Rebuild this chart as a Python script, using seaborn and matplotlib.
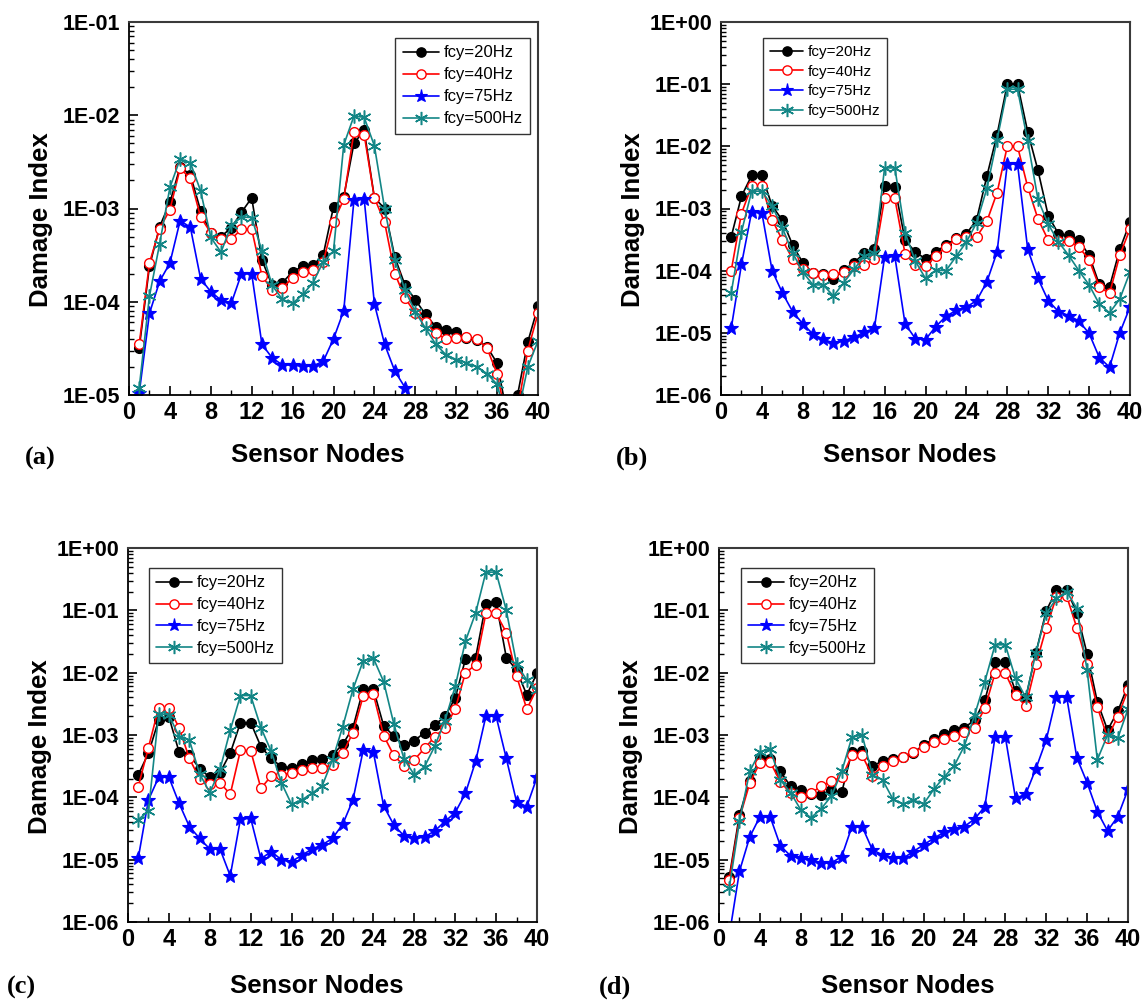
import numpy as np
import pandas as pd
import matplotlib
matplotlib.use("Agg")
import matplotlib.pyplot as plt
import seaborn as sns
from matplotlib import font_manager as fm
from matplotlib.ticker import MultipleLocator, LogLocator, FuncFormatter, NullFormatter

# ---------------- data ----------------
nodes = list(range(1, 41))
series_labels = ["fcy=20Hz", "fcy=40Hz", "fcy=75Hz", "fcy=500Hz"]

a_20 = [3.2e-5, 2.4e-4, 6.4e-4, 1.16e-3, 2.8e-3, 2.3e-3, 9.5e-4, 5.4e-4, 5.0e-4, 6.2e-4,
        9.1e-4, 1.3e-3, 2.8e-4, 1.5e-4, 1.6e-4, 2.1e-4, 2.4e-4, 2.45e-4, 3.2e-4, 1.04e-3,
        1.33e-3, 5.0e-3, 6.9e-3, 1.3e-3, 1.0e-3, 3.0e-4, 1.5e-4, 1.05e-4, 7.3e-5, 5.4e-5,
        5.0e-5, 4.7e-5, 4.1e-5, 3.9e-5, 3.3e-5, 2.2e-5, 6.0e-6, 1.0e-5, 3.7e-5, 8.9e-5]
a_40 = [3.5e-5, 2.6e-4, 6.1e-4, 9.7e-4, 2.7e-3, 2.1e-3, 8.1e-4, 5.5e-4, 4.7e-4, 4.7e-4,
        6.0e-4, 6.0e-4, 1.9e-4, 1.33e-4, 1.4e-4, 1.8e-4, 2.1e-4, 2.2e-4, 2.7e-4, 7.2e-4,
        1.25e-3, 6.6e-3, 6.2e-3, 1.3e-3, 7.1e-4, 2.0e-4, 1.1e-4, 7.5e-5, 6.0e-5, 4.6e-5,
        4.0e-5, 4.1e-5, 4.2e-5, 4.0e-5, 3.2e-5, 1.7e-5, 5.0e-6, 7.0e-6, 3.0e-5, 7.5e-5]
a_75 = [1.05e-5, 7.5e-5, 1.66e-4, 2.6e-4, 7.4e-4, 6.3e-4, 1.77e-4, 1.28e-4, 1.04e-4, 9.6e-5,
        2.0e-4, 2.0e-4, 3.5e-5, 2.5e-5, 2.1e-5, 2.1e-5, 2.05e-5, 2.05e-5, 2.3e-5, 4.0e-5,
        8.0e-5, 1.23e-3, 1.27e-3, 9.5e-5, 3.5e-5, 1.8e-5, 1.2e-5, 6.0e-6, 4.0e-6, 3.0e-6,
        2.5e-6, 2.5e-6, 2.2e-6, 2.0e-6, 1.8e-6, 1.5e-6, 1.0e-6, 8.0e-7, 1.5e-6, 3.0e-6]
a_500 = [1.2e-5, 1.15e-4, 4.2e-4, 1.68e-3, 3.4e-3, 3.1e-3, 1.55e-3, 4.9e-4, 3.4e-4, 6.6e-4,
         8.1e-4, 8.0e-4, 3.5e-4, 1.5e-4, 1.06e-4, 9.6e-5, 1.2e-4, 1.6e-4, 2.7e-4, 3.5e-4,
         4.8e-3, 9.8e-3, 9.5e-3, 4.7e-3, 1.0e-3, 2.8e-4, 1.33e-4, 7.8e-5, 5.2e-5, 3.5e-5,
         2.7e-5, 2.4e-5, 2.2e-5, 2.0e-5, 1.7e-5, 1.3e-5, 5.0e-6, 6.0e-6, 2.0e-5, 3.8e-5]

b_20 = [3.5e-4, 1.57e-3, 3.4e-3, 3.4e-3, 1.1e-3, 6.5e-4, 2.6e-4, 1.34e-4, 9.1e-5, 8.8e-5,
        7.4e-5, 1.02e-4, 1.34e-4, 1.9e-4, 2.2e-4, 2.3e-3, 2.2e-3, 3.1e-4, 2.0e-4, 1.55e-4,
        2.0e-4, 2.6e-4, 3.3e-4, 3.9e-4, 6.6e-4, 3.3e-3, 1.54e-2, 1.0e-1, 1.0e-1, 1.7e-2,
        4.1e-3, 7.7e-4, 3.9e-4, 3.7e-4, 3.1e-4, 1.77e-4, 6.0e-5, 5.5e-5, 2.2e-4, 6.0e-4]
b_40 = [1.0e-4, 8.3e-4, 2.3e-3, 2.3e-3, 6.6e-4, 3.1e-4, 1.55e-4, 1.05e-4, 9.1e-5, 8.5e-5,
        8.8e-5, 9.5e-5, 1.18e-4, 1.23e-4, 1.55e-4, 1.45e-3, 1.45e-3, 1.87e-4, 1.23e-4, 1.2e-4,
        1.7e-4, 2.4e-4, 3.2e-4, 3.5e-4, 3.5e-4, 6.2e-4, 1.8e-3, 1.0e-2, 1.0e-2, 2.2e-3,
        6.8e-4, 3.1e-4, 3.0e-4, 3.0e-4, 2.4e-4, 1.5e-4, 5.5e-5, 4.3e-5, 1.77e-4, 4.7e-4]
b_75 = [1.18e-5, 1.26e-4, 8.9e-4, 8.5e-4, 1.0e-4, 4.4e-5, 2.2e-5, 1.4e-5, 9.5e-6, 7.9e-6,
        6.8e-6, 7.4e-6, 8.5e-6, 1.02e-5, 1.18e-5, 1.66e-4, 1.7e-4, 1.4e-5, 8.1e-6, 7.8e-6,
        1.26e-5, 1.84e-5, 2.3e-5, 2.6e-5, 3.3e-5, 6.6e-5, 2.0e-4, 5.2e-3, 5.2e-3, 2.2e-4,
        7.5e-5, 3.3e-5, 2.2e-5, 1.9e-5, 1.55e-5, 9.8e-6, 4.0e-6, 2.8e-6, 1.0e-5, 2.6e-5]
b_500 = [4.4e-5, 4.2e-4, 1.9e-3, 1.9e-3, 1.1e-3, 4.9e-4, 1.94e-4, 9.5e-5, 5.9e-5, 5.9e-5,
         3.9e-5, 6.4e-5, 1.05e-4, 1.7e-4, 1.9e-4, 4.5e-3, 4.5e-3, 4.1e-4, 1.43e-4, 7.5e-5,
         1.02e-4, 1.0e-4, 1.7e-4, 2.9e-4, 5.9e-4, 2.1e-3, 1.28e-2, 8.3e-2, 8.3e-2, 1.2e-2,
         1.4e-3, 5.6e-4, 2.9e-4, 1.77e-4, 1.0e-4, 5.9e-5, 2.9e-5, 2.1e-5, 3.5e-5, 9.5e-5]

c_20 = [2.3e-4, 5.1e-4, 1.74e-3, 1.95e-3, 5.3e-4, 4.8e-4, 2.9e-4, 2.1e-4, 2.5e-4, 5.1e-4,
        1.58e-3, 1.58e-3, 6.5e-4, 4.2e-4, 3.1e-4, 3.0e-4, 3.4e-4, 3.9e-4, 4.1e-4, 4.8e-4,
        7.1e-4, 1.31e-3, 5.4e-3, 5.4e-3, 1.41e-3, 9.6e-4, 6.9e-4, 8.1e-4, 1.09e-3, 1.45e-3,
        2.0e-3, 3.9e-3, 1.65e-2, 1.75e-2, 1.28e-1, 1.34e-1, 1.75e-2, 1.1e-2, 4.4e-3, 9.8e-3]
c_40 = [1.48e-4, 6.3e-4, 2.75e-3, 2.7e-3, 1.31e-3, 4.2e-4, 2.0e-4, 1.62e-4, 1.72e-4, 1.12e-4,
        5.7e-4, 5.6e-4, 1.39e-4, 2.2e-4, 2.3e-4, 2.5e-4, 2.75e-4, 3.0e-4, 3.0e-4, 3.3e-4,
        5.1e-4, 1.09e-3, 4.2e-3, 4.5e-3, 9.8e-4, 4.7e-4, 3.2e-4, 4.0e-4, 6.1e-4, 9.4e-4,
        1.31e-3, 2.6e-3, 1.0e-2, 1.33e-2, 8.9e-2, 8.9e-2, 4.4e-2, 8.9e-3, 2.6e-3, 5.6e-3]
c_75 = [1.05e-5, 9.1e-5, 2.1e-4, 2.1e-4, 8.0e-5, 3.4e-5, 2.2e-5, 1.48e-5, 1.48e-5, 5.5e-6,
        4.5e-5, 4.6e-5, 1.03e-5, 1.35e-5, 1.0e-5, 9.3e-6, 1.18e-5, 1.48e-5, 1.73e-5, 2.2e-5,
        3.7e-5, 9.1e-5, 5.7e-4, 5.3e-4, 7.3e-5, 3.6e-5, 2.4e-5, 2.2e-5, 2.3e-5, 2.9e-5,
        4.1e-5, 5.7e-5, 1.16e-4, 3.8e-4, 2.0e-3, 2.0e-3, 4.2e-4, 8.5e-5, 7.1e-5, 2.1e-4]
c_500 = [4.4e-5, 6.0e-5, 2.2e-3, 2.1e-3, 9.4e-4, 8.3e-4, 2.4e-4, 1.19e-4, 2.8e-4, 1.2e-3,
         4.3e-3, 4.3e-3, 1.31e-3, 5.5e-4, 1.72e-4, 7.7e-5, 9.1e-5, 1.16e-4, 1.54e-4, 4.0e-4,
         1.36e-3, 5.4e-3, 1.55e-2, 1.7e-2, 7.2e-3, 1.5e-3, 4.1e-4, 2.3e-4, 3.1e-4, 6.6e-4,
         1.7e-3, 6.0e-3, 3.2e-2, 9.1e-2, 4.1e-1, 4.1e-1, 1.0e-1, 1.38e-2, 7.6e-3, 5.3e-3]

d_20 = [5.2e-6, 5.2e-5, 1.85e-4, 4.2e-4, 4.1e-4, 2.6e-4, 1.5e-4, 1.31e-4, 1.13e-4, 1.09e-4,
        1.31e-4, 1.2e-4, 5.4e-4, 5.6e-4, 3.2e-4, 3.8e-4, 4.1e-4, 4.5e-4, 5.2e-4, 6.9e-4,
        8.6e-4, 1.04e-3, 1.2e-3, 1.31e-3, 1.74e-3, 3.6e-3, 1.5e-2, 1.5e-2, 5.0e-3, 3.9e-3,
        2.1e-2, 9.8e-2, 2.1e-1, 2.1e-1, 9.2e-2, 2.0e-2, 3.4e-3, 1.2e-3, 2.4e-3, 6.3e-3]
d_40 = [4.7e-6, 4.6e-5, 1.67e-4, 3.6e-4, 3.7e-4, 1.78e-4, 1.16e-4, 1.0e-4, 1.18e-4, 1.5e-4,
        1.83e-4, 2.1e-4, 4.7e-4, 4.7e-4, 2.2e-4, 3.2e-4, 3.8e-4, 4.5e-4, 5.3e-4, 6.5e-4,
        7.6e-4, 8.6e-4, 9.8e-4, 1.1e-3, 1.31e-3, 2.7e-3, 9.8e-3, 9.8e-3, 4.4e-3, 2.9e-3,
        1.36e-2, 5.2e-2, 1.66e-1, 1.7e-1, 5.2e-2, 1.4e-2, 2.8e-3, 9.1e-4, 1.97e-3, 5.3e-3]
d_75 = [6.0e-7, 6.5e-6, 2.3e-5, 4.9e-5, 4.9e-5, 1.67e-5, 1.15e-5, 1.05e-5, 1.0e-5, 8.9e-6,
        8.9e-6, 1.12e-5, 3.4e-5, 3.4e-5, 1.44e-5, 1.19e-5, 1.07e-5, 1.05e-5, 1.35e-5, 1.73e-5,
        2.2e-5, 2.75e-5, 3.1e-5, 3.4e-5, 4.5e-5, 7.1e-5, 9.4e-4, 9.4e-4, 9.6e-5, 1.13e-4,
        2.9e-4, 8.3e-4, 4.1e-3, 4.1e-3, 4.3e-4, 1.72e-4, 5.9e-5, 2.9e-5, 4.9e-5, 1.34e-4]
d_500 = [3.5e-6, 4.1e-5, 2.6e-4, 5.4e-4, 5.9e-4, 1.9e-4, 1.19e-4, 6.3e-5, 4.7e-5, 6.6e-5,
         1.05e-4, 2.6e-4, 9.2e-4, 1.0e-3, 2.3e-4, 1.9e-4, 9.4e-5, 7.8e-5, 9.1e-5, 7.8e-5,
         1.34e-4, 2.1e-4, 3.2e-4, 6.7e-4, 2.1e-3, 7.2e-3, 2.8e-2, 2.8e-2, 8.1e-3, 4.0e-3,
         2.1e-2, 8.9e-2, 1.55e-1, 2.0e-1, 1.07e-1, 1.1e-2, 4.0e-4, 1.0e-3, 8.9e-4, 2.6e-3]

panel_tags = ["(a)", "(b)", "(c)", "(d)"]
panel_data = [
    [a_20, a_40, a_75, a_500],
    [b_20, b_40, b_75, b_500],
    [c_20, c_40, c_75, c_500],
    [d_20, d_40, d_75, d_500],
]
y_limits = [(1e-5, 1e-1), (1e-6, 1e0), (1e-6, 1e0), (1e-6, 1e0)]
x_label = "Sensor Nodes"
y_label = "Damage Index"

# ---------------- style ----------------
sns.set_theme(style="white")
plt.rcParams["font.family"] = ["Liberation Sans", "DejaVu Sans"]
plt.rcParams["text.color"] = "black"
plt.rcParams["axes.labelcolor"] = "black"
plt.rcParams["xtick.color"] = "black"
plt.rcParams["ytick.color"] = "black"

names = {f.name for f in fm.fontManager.ttflist}
if "Liberation Sans Narrow" in names:
    tick_family, ytick_size, xtick_size = ["Liberation Sans Narrow", "DejaVu Sans"], 18.5, 20.5
else:
    tick_family, ytick_size, xtick_size = ["Liberation Sans", "DejaVu Sans"], 15.5, 17

styles = [
    dict(color="black", marker="o", mfc="black", mec="black", ms=7, mew=1.0),
    dict(color="#ff0000", marker="o", mfc="white", mec="#ff0000", ms=7, mew=1.0),
    dict(color="#0000ff", marker="*", mfc="#0000ff", mec="#0000ff", ms=10, mew=0.8),
    dict(color="#138686", marker=(6, 2, 0), mfc="#138686", mec="#138686", ms=10, mew=1.1),
]

W, H = 1146, 1000
# axes boxes in pixels: left, top, right, bottom
boxes = [(129, 22, 538, 395), (721, 22, 1130, 395), (128, 548, 537, 922), (719, 548, 1128, 922)]
legend_pos = [(395, 38), (763, 38), (149, 568), (741, 568)]
legend_fs = [12, 11, 11.8, 11.8]
legend_sp = [0.42, 0.38, 0.42, 0.42]
tag_pos = [(40, 458), (632, 458), (21, 987), (615, 987)]
xlabel_y = [-0.128, -0.128, -0.138, -0.138]

fig = plt.figure(figsize=(W / 100, H / 100), dpi=100)

def fmt_log(v, pos):
    e = int(round(np.log10(v)))
    return f"1E{e:+03d}"

for i in range(4):
    l, t, r, b = boxes[i]
    ax = fig.add_axes([l / W, 1 - b / H, (r - l) / W, (b - t) / H])
    for k, lab in enumerate(series_labels):
        df_k = pd.DataFrame({"node": nodes, "value": panel_data[i][k]})
        sns.lineplot(data=df_k, x="node", y="value", ax=ax, label=lab,
                     linewidth=1.2, markeredgewidth=styles[k]["mew"],
                     color=styles[k]["color"], marker=styles[k]["marker"],
                     markerfacecolor=styles[k]["mfc"], markeredgecolor=styles[k]["mec"],
                     markersize=styles[k]["ms"], clip_on=True)
    ax.set_yscale("log")
    ax.set_ylim(*y_limits[i])
    ax.set_xlim(0, 40)
    ax.xaxis.set_major_locator(MultipleLocator(4))
    ax.xaxis.set_minor_locator(MultipleLocator(2))
    ax.yaxis.set_major_locator(LogLocator(base=10, numticks=20))
    ax.yaxis.set_minor_locator(LogLocator(base=10, subs=np.arange(2, 10), numticks=20))
    ax.yaxis.set_major_formatter(FuncFormatter(fmt_log))
    ax.yaxis.set_minor_formatter(NullFormatter())
    ax.tick_params(which="both", direction="in", top=False, right=False,
                   bottom=True, left=True, colors="black")
    ax.tick_params(which="major", length=6.5, width=1.2)
    ax.tick_params(which="minor", length=3.5, width=1.0)
    ax.tick_params(axis="y", which="major", pad=6.5)
    ax.tick_params(axis="x", which="major", pad=4.5)
    for lb in ax.get_yticklabels():
        lb.set_family(tick_family)
        lb.set_fontsize(ytick_size)
        lb.set_fontweight("bold")
        lb.set_color("black")
    for lb in ax.get_xticklabels():
        lb.set_family(tick_family)
        lb.set_fontsize(xtick_size)
        lb.set_fontweight("bold")
        lb.set_color("black")
    for side in ["left", "bottom"]:
        ax.spines[side].set_color("black")
        ax.spines[side].set_linewidth(1.3)
    for side in ["top", "right"]:
        ax.spines[side].set_color("#3a3a3a")
        ax.spines[side].set_linewidth(1.5)
    ax.set_xlabel(x_label, fontsize=18.5, fontweight="bold", color="black")
    ax.set_ylabel(y_label, fontsize=18.5, fontweight="bold", color="black")
    ax.xaxis.set_label_coords(0.462, xlabel_y[i])
    ax.yaxis.set_label_coords(-0.186, 0.47)
    lx, ly = legend_pos[i]
    leg = ax.legend(loc="upper left", bbox_to_anchor=(lx / W, 1 - ly / H),
                    bbox_transform=fig.transFigure, borderaxespad=0,
                    frameon=True, fancybox=False, framealpha=1, edgecolor="#333333",
                    prop={"family": ["Liberation Sans", "DejaVu Sans"], "size": legend_fs[i]},
                    handlelength=2.2, handletextpad=0.25, labelspacing=legend_sp[i],
                    borderpad=0.45, markerscale=0.95)
    leg.get_frame().set_linewidth(1.0)
    for txt in leg.get_texts():
        txt.set_color("black")
    tx, ty = tag_pos[i]
    fig.text(tx / W, 1 - ty / H, panel_tags[i], ha="center", va="center", color="black",
             family=["Liberation Serif", "DejaVu Serif"], fontweight="bold", fontsize=19)

fig.savefig("out.png", dpi=100, facecolor="white")
